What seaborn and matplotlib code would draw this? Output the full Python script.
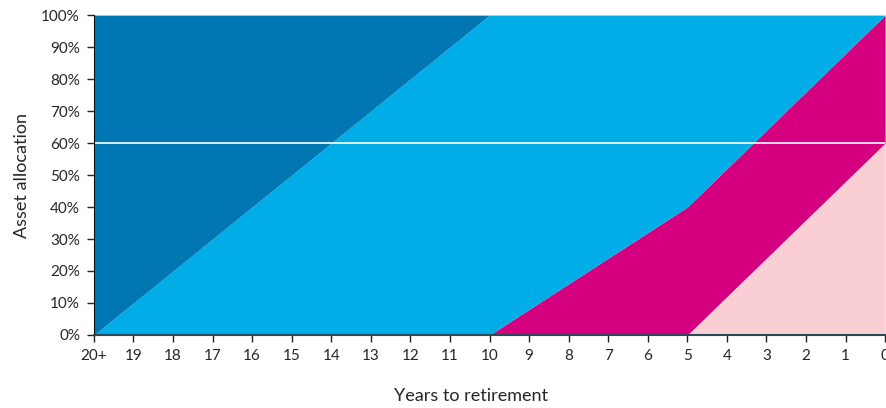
import numpy as np
import pandas as pd
import seaborn as sns
from matplotlib import pyplot as plt
from matplotlib.ticker import FuncFormatter

# 은퇴까지 남은 연수 (20+ ... 0)
years = list(range(20, -1, -1))
year_labels = ['20+'] + [str(y) for y in range(19, -1, -1)]

# 아래층부터 쌓이는 자산 비율 (%)
pink = [0] * 16 + [12, 24, 36, 48, 60]
magenta = [0] * 11 + [8, 16, 24, 32, 40, 40, 40, 40, 40, 40]
light_blue = [0, 10, 20, 30, 40, 50, 60, 70, 80, 90, 100,
              92, 84, 76, 68, 60, 48, 36, 24, 12, 0]
dark_blue = [100, 90, 80, 70, 60, 50, 40, 30, 20, 10, 0,
             0, 0, 0, 0, 0, 0, 0, 0, 0, 0]

colors = ['#F9CFD3', '#D5007F', '#00ADE6', '#0076B2']

sns.set_style('white')
plt.rcParams['font.family'] = ['Lato', 'DejaVu Sans']

df = pd.DataFrame({'years': years, 'pink': pink, 'magenta': magenta,
                   'light_blue': light_blue, 'dark_blue': dark_blue})

fig = plt.figure(figsize=(8.86, 4.08), dpi=100)
ax = fig.add_axes([0.106, 0.179, 0.893, 0.784])
ax.stackplot(df['years'], df['pink'], df['magenta'], df['light_blue'], df['dark_blue'],
             colors=colors, linewidth=0)
ax.axhline(60, color='white', lw=1.2)

ax.set_xlim(20, 0)
ax.set_ylim(0, 100)
ax.set_xticks(years)
ax.set_xticklabels(year_labels)
ax.set_yticks(range(0, 101, 10))
ax.yaxis.set_major_formatter(FuncFormatter(lambda v, p: f'{int(v)}%'))
ax.tick_params(axis='both', length=5, width=1, color='#222222', labelsize=11, pad=5,
               bottom=True, left=True)

for s in ['top', 'right']:
    ax.spines[s].set_visible(False)
ax.spines['left'].set_color('#111111')
ax.spines['bottom'].set_color('#2a4a5a')
ax.spines['bottom'].set_linewidth(1.5)

ax.set_xlabel('Years to retirement', fontsize=13)
ax.xaxis.set_label_coords(0.476, -0.165)
ax.set_ylabel('Asset allocation', fontsize=13, labelpad=8)

plt.savefig('out.png', dpi=100)
